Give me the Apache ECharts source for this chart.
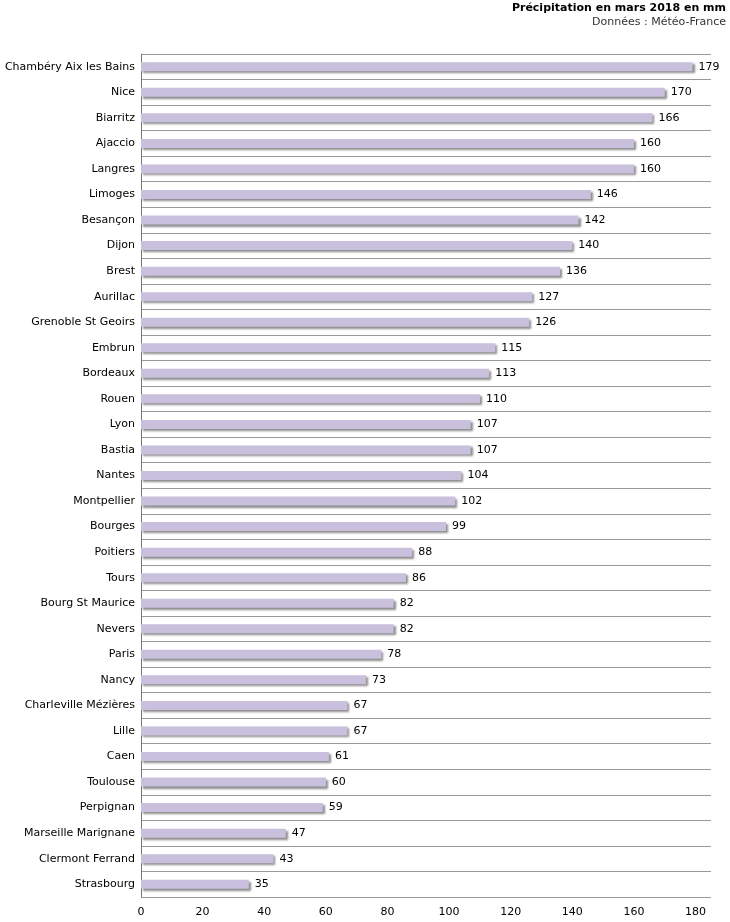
<!DOCTYPE html>
<html><head><meta charset="utf-8">
<script src="https://cdn.jsdelivr.net/npm/echarts@6/dist/echarts.min.js"></script>
<style>html,body{margin:0;padding:0;background:#fff}#main{width:730px;height:922px}</style>
</head><body><div id="main"></div>
<script>
const cities = ['Chambéry Aix les Bains','Nice','Biarritz','Ajaccio','Langres','Limoges','Besançon','Dijon','Brest','Aurillac','Grenoble St Geoirs','Embrun','Bordeaux','Rouen','Lyon','Bastia','Nantes','Montpellier','Bourges','Poitiers','Tours','Bourg St Maurice','Nevers','Paris','Nancy','Charleville Mézières','Lille','Caen','Toulouse','Perpignan','Marseille Marignane','Clermont Ferrand','Strasbourg'];
const precip = [179,170,166,160,160,146,142,140,136,127,126,115,113,110,107,107,104,102,99,88,86,82,82,78,73,67,67,61,60,59,47,43,35];

const chart = echarts.init(document.getElementById('main'));
const font = 'DejaVu Sans, Verdana, sans-serif';
chart.setOption({
  animation: false,
  title: [{
    text: 'Précipitation en mars 2018 en mm',
    right: 4, top: 3, padding: 0,
    textStyle: {fontFamily: font, fontSize: 11, fontWeight: 'bold', color: '#000'}
  }, {
    text: 'Données : Météo-France',
    right: 4, top: 17, padding: 0,
    textStyle: {fontFamily: font, fontSize: 11, fontWeight: 'normal', color: '#333'}
  }],
  grid: {left: 141, right: 19, top: 54, bottom: 25},
  xAxis: {
    type: 'value', min: 0, max: 185, interval: 20,
    axisLine: {show: false}, axisTick: {show: false}, splitLine: {show: false},
    axisLabel: {showMaxLabel: false, fontFamily: font, fontSize: 11, color: '#000', margin: 10}
  },
  yAxis: {
    type: 'category', inverse: true, data: cities,
    axisLine: {show: true, lineStyle: {color: '#777'}},
    axisTick: {show: false},
    splitLine: {show: true, interval: 0, lineStyle: {color: '#999'}},
    axisLabel: {fontFamily: font, fontSize: 11, color: '#000', margin: 6}
  },
  series: [{
    type: 'bar', data: precip, barWidth: 9,
    itemStyle: {color: '#c8c0dc', shadowColor: 'rgba(0,0,0,0.45)', shadowBlur: 2, shadowOffsetX: 2, shadowOffsetY: 2},
    label: {show: true, position: 'right', distance: 6, fontFamily: font, fontSize: 11, color: '#000'}
  }]
});
</script></body></html>
